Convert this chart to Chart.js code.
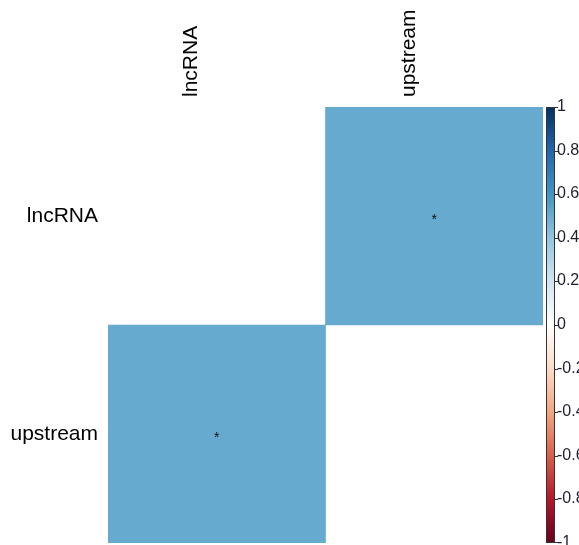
<!DOCTYPE html>
<html><head><meta charset="utf-8">
<script src="https://cdn.jsdelivr.net/npm/chart.js@4"></script>
<style>html,body{margin:0;padding:0;background:#fff;overflow:hidden}#wrap{width:579px;height:545px;position:relative}</style>
</head><body><div id="wrap"><canvas id="c"></canvas></div>
<script>
// ---- data ----
const variables = ['lncRNA', 'upstream'];
const corrRow_lncRNA = [null, 0.51];     // diagonal left blank
const corrRow_upstream = [0.51, null];
const sigRow_lncRNA = ['', '*'];
const sigRow_upstream = ['*', ''];
const colorbarTicks = [1, 0.8, 0.6, 0.4, 0.2, 0, -0.2, -0.4, -0.6, -0.8, -1];
const rdbuStops = ['#67001F','#B2182B','#D6604D','#F4A582','#FDDBC7','#FFFFFF','#D1E5F0','#92C5DE','#4393C3','#2166AC','#053061'];

const corrMatrix = [corrRow_lncRNA, corrRow_upstream];
const sigMatrix = [sigRow_lncRNA, sigRow_upstream];

function hex2rgb(h){return [parseInt(h.slice(1,3),16),parseInt(h.slice(3,5),16),parseInt(h.slice(5,7),16)];}
function corrColor(v){
  const t = (v + 1) / 2 * (rdbuStops.length - 1);
  const i = Math.min(Math.floor(t), rdbuStops.length - 2);
  const f = t - i;
  const a = hex2rgb(rdbuStops[i]), b = hex2rgb(rdbuStops[i+1]);
  const c = a.map((x,k)=>Math.round(x + (b[k]-x)*f));
  return `rgb(${c[0]},${c[1]},${c[2]})`;
}

const datasets = variables.map((rowName, i) => ({
  label: rowName,
  data: corrMatrix[i].map(v => v === null ? null : [i, i + 1]),
  backgroundColor: corrMatrix[i].map(v => v === null ? 'rgba(0,0,0,0)' : corrColor(v)),
  borderWidth: 0,
  barPercentage: 1,
  categoryPercentage: 1,
  grouped: false
}));

const FONT = 'Liberation Sans, Arial, sans-serif';

const sigPlugin = {
  id: 'sig',
  afterDatasetsDraw(chart) {
    const {ctx, scales: {x, y}} = chart;
    ctx.save();
    ctx.fillStyle = '#111';
    ctx.font = `14px ${FONT}`;
    ctx.textAlign = 'center';
    ctx.textBaseline = 'alphabetic';
    sigMatrix.forEach((row, i) => row.forEach((s, j) => {
      if (!s) return;
      const px = x.getPixelForValue(j);
      const py = y.getPixelForValue(i + 0.5);
      ctx.fillText(s, px, py + 8);
    }));
    ctx.restore();
  }
};

const colorbarPlugin = {
  id: 'colorbar',
  afterDraw(chart) {
    const {ctx, chartArea, scales: {y}} = chart;
    const left = chartArea.right + 3, right = chartArea.right + 12;
    const top = y.getPixelForValue(0), bottom = y.getPixelForValue(2);
    ctx.save();
    const g = ctx.createLinearGradient(0, bottom, 0, top);
    rdbuStops.forEach((c, k) => g.addColorStop(k / (rdbuStops.length - 1), c));
    ctx.fillStyle = g;
    ctx.fillRect(left, top, right - left, bottom - top);
    ctx.strokeStyle = '#333';
    ctx.lineWidth = 1;
    ctx.strokeRect(left + 0.5, top + 0.5, right - left - 1, bottom - top - 1);
    ctx.fillStyle = '#1f1f2f';
    ctx.font = `16px ${FONT}`;
    ctx.textAlign = 'left';
    ctx.textBaseline = 'middle';
    colorbarTicks.forEach(v => {
      const py = Math.round(y.getPixelForValue(1 - v)) + 0.5;
      const cy = Math.min(Math.max(py, top + 0.5), bottom - 0.5);
      ctx.beginPath();
      ctx.moveTo(right - 1, cy);
      ctx.lineTo(right + 3, cy);
      ctx.stroke();
      ctx.fillText(String(v), right + 2, py - 1);
    });
    ctx.restore();
  }
};

new Chart(document.getElementById('c'), {
  type: 'bar',
  data: { labels: variables, datasets },
  options: {
    responsive: true,
    maintainAspectRatio: false,
    devicePixelRatio: 1,
    animation: false,
    layout: { autoPadding: false, padding: { left: 0, top: 0, right: 36, bottom: 2 } },
    plugins: { legend: { display: false }, tooltip: { enabled: false } },
    scales: {
      x: {
        type: 'category',
        position: 'top',
        offset: true,
        grid: { display: false, drawTicks: false },
        border: { display: false },
        ticks: { color: '#000', font: { family: FONT, size: 21 }, minRotation: 90, maxRotation: 90, padding: 10 },
        afterFit(s) { s.height = 107; s.paddingLeft = 0; s.paddingRight = 0; }
      },
      y: {
        type: 'linear',
        min: 0, max: 2,
        reverse: true,
        grid: { display: false, drawTicks: false },
        border: { display: false },
        afterBuildTicks(s) { s.ticks = [{ value: 0.5 }, { value: 1.5 }]; },
        ticks: {
          color: '#000', font: { family: FONT, size: 21 }, padding: 10,
          callback: (v) => variables[Math.floor(v)]
        },
        afterFit(s) { s.width = 108; s.paddingTop = 0; s.paddingBottom = 0; }
      }
    }
  },
  plugins: [sigPlugin, colorbarPlugin]
});
</script>
</body></html>
